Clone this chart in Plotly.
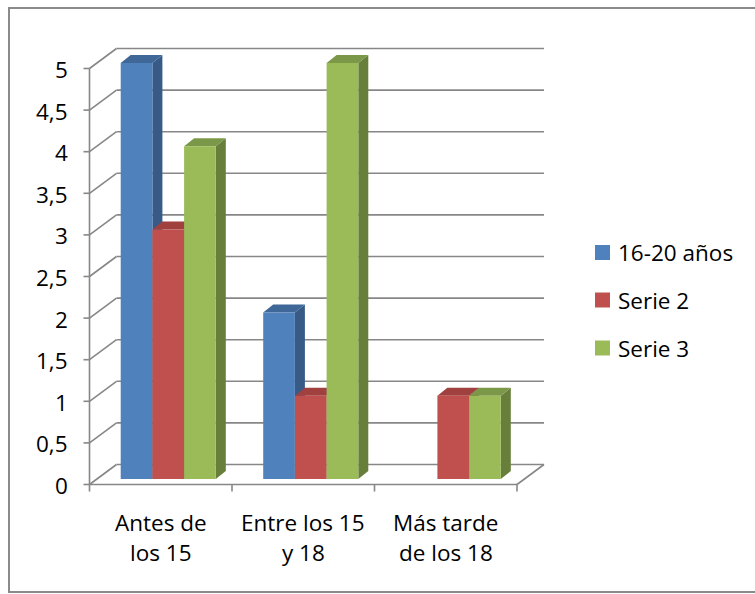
import plotly.graph_objects as go

# ---- data -------------------------------------------------------------
categories = ["Antes de\nlos 15", "Entre los 15\ny 18", "Más tarde\nde los 18"]
series_names = ["16-20 años", "Serie 2", "Serie 3"]
serie_16_20 = [5, 2, 0]
serie_2 = [3, 1, 1]
serie_3 = [4, 5, 1]
y_tick_values = [0, 0.5, 1, 1.5, 2, 2.5, 3, 3.5, 4, 4.5, 5]
y_tick_labels = ["0", "0,5", "1", "1,5", "2", "2,5", "3", "3,5", "4", "4,5", "5"]

series_values = [serie_16_20, serie_2, serie_3]
front_colors = ["#4F81BD", "#C0504D", "#9BBB59"]
side_colors = ["#375A87", "#8D3A38", "#687F3C"]
top_colors = ["#3F6797", "#A0413F", "#7B9848"]

# ---- page / projection geometry (pixels) -------------------------------
W, H = 755, 594
X0, CW = 89.5, 142.5      # left end of the front category axis, px per category
Y0, U = 484.5, 83.2       # zero line of the front value axis, px per unit

WX, WY = 27 / CW, 20 / U  # depth of the side wall / floor
BX, BY = 7.5 / CW, 5.5 / U  # front plane of the columns
DX, DY = 10 / CW, 8 / U   # depth of each column
BW = 31.7 / CW            # column width

x_range = [-0.5 - X0 / CW, -0.5 + (W - X0) / CW]
y_range = [-(H - Y0) / U, Y0 / U]

GRID = "#878787"
FONT = "Open Sans"
FS = 22.5
n_cat = len(categories)
x_left, x_right = -0.5, n_cat - 0.5

shapes = []


def line(x0, y0, x1, y1, color=GRID, width=1.6):
    shapes.append(dict(type="line", xref="x", yref="y", x0=x0, y0=y0, x1=x1, y1=y1,
                       line=dict(color=color, width=width), layer="between"))


def poly(points, color):
    path = "M " + " L ".join(f"{px},{py}" for px, py in points) + " Z"
    shapes.append(dict(type="path", xref="x", yref="y", path=path, fillcolor=color,
                       line=dict(width=0), layer="between"))


# side wall and back wall gridlines
for v in y_tick_values:
    line(x_left, v, x_left + WX, v + WY)
    line(x_left + WX, v + WY, x_right + WX, v + WY)
    # value-axis tick marks
    line(x_left - 6 / CW, v, x_left, v)

# front axes and the right edge of the floor
line(x_left, 0, x_left, y_tick_values[-1])
line(x_left, 0, x_right, 0)
line(x_right, 0, x_right + WX, WY)
for k in range(n_cat + 1):
    line(x_left + k, 0, x_left + k, -7 / U)

# column tops and sides (fronts are bar traces drawn above)
fig = go.Figure()
for s, vals in enumerate(series_values):
    xs = [i + BX + (s - 1) * BW for i in range(n_cat)]
    for xc, v in zip(xs, vals):
        if v <= 0:
            continue
        xl, xr = xc - BW / 2, xc + BW / 2
        top = v + BY
        poly([(xr, BY), (xr, top), (xr + DX, top + DY), (xr + DX, BY + DY)], side_colors[s])
        poly([(xl, top), (xr, top), (xr + DX, top + DY), (xl + DX, top + DY)], top_colors[s])
    fig.add_trace(go.Bar(
        x=xs, y=vals, base=BY, width=BW, name=series_names[s],
        marker=dict(color=front_colors[s], line=dict(width=0)),
        showlegend=False, hoverinfo="skip",
    ))

annotations = []
# value-axis labels
for v, lab in zip(y_tick_values, y_tick_labels):
    annotations.append(dict(x=x_left, y=v, xref="x", yref="y", text=lab, showarrow=False,
                            xanchor="right", yanchor="middle", xshift=-20, yshift=-1,
                            font=dict(family=FONT, size=FS, color="#000000")))
# category labels
for i, cat in enumerate(categories):
    for j, part in enumerate(cat.split("\n")):
        annotations.append(dict(x=i, y=0, xref="x", yref="y", text=part, showarrow=False,
                                xanchor="center", yanchor="middle", yshift=-37.5 - 30 * j,
                                font=dict(family=FONT, size=FS, color="#000000")))

# legend
legend_y = [252.5, 300, 348]
for s, name in enumerate(series_names):
    cy = 1 - legend_y[s] / H
    shapes.append(dict(type="rect", xref="paper", yref="paper",
                       x0=595 / W, x1=610 / W, y0=cy - 7.5 / H, y1=cy + 7.5 / H,
                       fillcolor=front_colors[s], line=dict(width=0), layer="above"))
    annotations.append(dict(x=616 / W, y=cy, xref="paper", yref="paper", text=name,
                            showarrow=False, xanchor="left", yanchor="middle",
                            font=dict(family=FONT, size=FS, color="#000000")))

# chart border
shapes.append(dict(type="rect", xref="paper", yref="paper",
                   x0=9 / W, x1=1.02, y0=1 - 592 / H, y1=1 - 8 / H,
                   line=dict(color="#8A8A8A", width=2), fillcolor="rgba(0,0,0,0)",
                   layer="above"))

fig.update_layout(
    width=W, height=H, autosize=False,
    margin=dict(l=0, r=0, t=0, b=0, pad=0),
    paper_bgcolor="white", plot_bgcolor="white",
    barmode="overlay",
    xaxis=dict(range=x_range, visible=False, fixedrange=True),
    yaxis=dict(range=y_range, visible=False, fixedrange=True),
    shapes=shapes, annotations=annotations,
    showlegend=False,
)

fig.write_html("out.html")
